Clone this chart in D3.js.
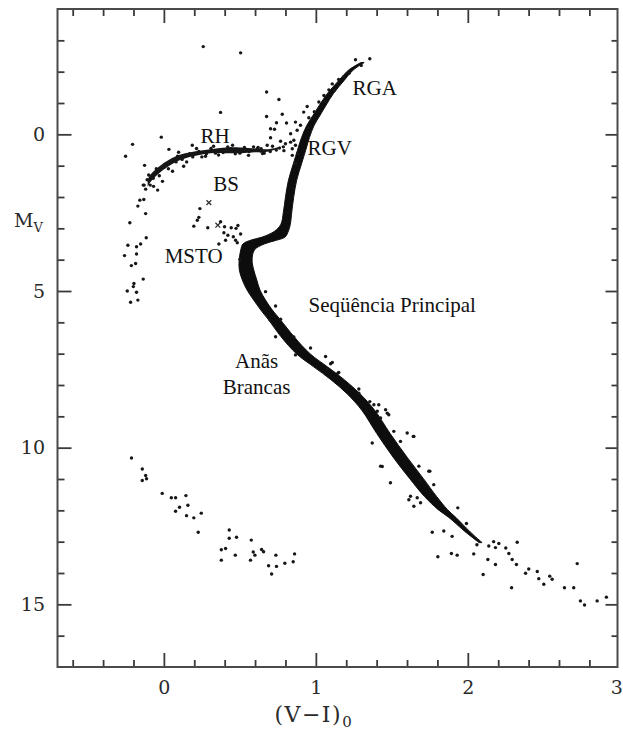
<!DOCTYPE html>
<html>
<head>
<meta charset="utf-8">
<script src="https://cdn.jsdelivr.net/npm/d3@7"></script>
<style>
  body { margin: 0; background: #fff; }
  svg { display: block; }
</style>
</head>
<body>
<svg id="chart" width="623" height="733"></svg>
<script>
// ---- axis ticks ----
const majorX = [0, 1, 2, 3];
const majorY = [0, 5, 10, 15];

// ---- dense ridge of the main sequence / subgiant / red giant branch ----
// colour (V-I)0, magnitude Mv, full colour spread of the band
const ridgeColor = [1.307, 1.228, 1.169, 1.097, 1.044, 1.005, 0.965, 0.932, 0.906, 0.880, 0.847, 0.827, 0.814, 0.801, 0.774, 0.722, 0.656, 0.590, 0.551, 0.538, 0.544, 0.564, 0.590, 0.630, 0.676, 0.728, 0.814, 0.919, 1.031, 1.143, 1.248, 1.347, 1.445, 1.557, 1.663, 1.755, 1.834, 1.899, 1.998, 2.084];
const ridgeMag   = [-2.29, -2.04, -1.72, -1.31, -0.92, -0.61, -0.29, 0.10, 0.51, 0.92, 1.46, 2.01, 2.48, 2.87, 3.09, 3.28, 3.38, 3.50, 3.69, 4.01, 4.33, 4.65, 4.97, 5.29, 5.61, 5.92, 6.46, 7.01, 7.42, 7.83, 8.28, 8.82, 9.55, 10.32, 10.99, 11.56, 11.97, 12.23, 12.68, 13.03];
const ridgeSpread = [0.022, 0.030, 0.035, 0.040, 0.044, 0.046, 0.048, 0.052, 0.054, 0.054, 0.054, 0.054, 0.055, 0.062, 0.090, 0.150, 0.170, 0.140, 0.090, 0.085, 0.095, 0.095, 0.085, 0.078, 0.076, 0.078, 0.086, 0.090, 0.090, 0.088, 0.085, 0.085, 0.088, 0.092, 0.090, 0.080, 0.062, 0.046, 0.032, 0.020];

// ---- horizontal branch ridge: colour, magnitude, full magnitude spread ----
const hbColor  = [-0.107, -0.088, -0.035, 0.031, 0.110, 0.209, 0.307, 0.406, 0.504, 0.603, 0.689, 0.768];
const hbMag    = [1.56, 1.40, 1.15, 0.92, 0.73, 0.61, 0.54, 0.51, 0.51, 0.51, 0.51, 0.41];
const hbSpread = [0.22, 0.24, 0.22, 0.20, 0.17, 0.14, 0.13, 0.18, 0.18, 0.12, 0.07, 0.04];

// ---- individual stars: [ (V-I)0, Mv ] ----
const hbStars = [
  [-0.017, 0.09], [-0.206, 0.32], [-0.252, 0.70], [-0.127, 0.99],
  [-0.068, 1.66], [-0.041, 1.78], [-0.009, 1.50], [0.057, 1.18], [0.130, 1.02],
  [0.097, 0.57], [0.215, 0.45], [0.274, 0.70], [0.327, 0.38], [0.452, 0.35],
  [0.557, 0.67], [0.649, 0.61], [0.715, 0.38], [0.033, 0.48], [0.187, 0.35],
  [0.373, -0.70], [0.259, -2.80], [0.505, -2.60],
  [-0.12, 1.75], [-0.10, 1.30], [-0.06, 1.25], [0.00, 1.05], [0.06, 0.80],
  [0.15, 0.88], [0.17, 0.62], [0.25, 0.72], [0.36, 0.66], [0.42, 0.40],
  [0.47, 0.62], [0.59, 0.40], [0.62, 0.42], [0.66, 0.60], [0.74, 0.50],
  [0.79, 0.52], [0.80, 0.30],
  [-0.13, 1.62], [-0.11, 1.45], [-0.09, 1.62], [-0.07, 1.40], [-0.05, 1.10],
  [-0.03, 1.32], [0.01, 0.95], [0.03, 1.10], [0.08, 0.88], [0.09, 0.70],
  [0.12, 0.80], [0.19, 0.72], [0.23, 0.55], [0.28, 0.62], [0.31, 0.45],
  [0.34, 0.60], [0.39, 0.58], [0.44, 0.46], [0.50, 0.60], [0.53, 0.42],
  [0.56, 0.55], [0.64, 0.46], [0.70, 0.55], [0.76, 0.44]
];
const blueTailStars = [
  [-0.136, 1.62], [-0.158, 2.10], [-0.132, 2.08], [-0.171, 2.29], [-0.120, 2.53],
  [-0.224, 2.82], [-0.116, 3.30], [-0.153, 3.50], [-0.237, 3.54], [-0.180, 3.59],
  [-0.259, 3.87], [-0.180, 3.82], [-0.214, 4.19], [-0.186, 4.12], [-0.136, 4.62],
  [-0.197, 4.76], [-0.201, 4.86], [-0.241, 5.00], [-0.180, 5.04], [-0.171, 5.29],
  [-0.219, 5.36]
];
const agbStars = [
  [0.676, -1.35], [0.757, -1.11], [0.676, -0.57], [0.779, -0.64], [0.741, -0.37],
  [0.807, -0.36], [0.728, -0.16], [0.866, -0.39], [0.877, -0.13], [0.702, 0.11],
  [0.768, 0.22], [0.680, 0.35], [0.834, 0.25], [0.845, 0.46], [0.614, 0.46],
  [0.636, 0.53], [0.866, 0.35], [0.702, -0.18], [0.834, -0.02], [0.920, -0.71],
  [0.943, -0.89]
];
const rgbStars = [
  [1.261, -2.38], [1.355, -2.41], [1.299, -2.20], [1.218, -1.95], [1.184, -1.83],
  [1.108, -1.61], [1.086, -1.42], [1.053, -1.24], [1.020, -1.03], [0.954, -0.53],
  [0.899, -0.29], [0.855, 0.19], [0.845, 0.67], [0.866, 0.93], [0.786, 0.40],
  [1.150, -1.75], [1.120, -1.40], [1.060, -1.05], [0.990, -0.72], [0.950, -0.20],
  [0.880, 0.62]
];
const blueStragglers = [
  [0.237, 2.37], [0.230, 2.65], [0.220, 2.74], [0.197, 2.93], [0.289, 2.98],
  [0.373, 2.79], [0.399, 2.95], [0.443, 2.98], [0.487, 2.91], [0.395, 3.14],
  [0.421, 3.22], [0.457, 3.27], [0.505, 3.18], [0.406, 3.38], [0.472, 3.38],
  [0.483, 3.46], [0.362, 3.50], [0.500, 3.99], [0.475, 3.00]
];
const blueStragglerCrosses = [[0.296, 2.18], [0.355, 2.90]];
const msStars = [
  [0.669, 5.02], [0.735, 5.48], [0.698, 5.92], [0.768, 5.90], [0.735, 6.46],
  [0.855, 6.47], [0.965, 6.82], [0.866, 7.04], [1.064, 7.09], [1.097, 7.32],
  [1.075, 7.49], [1.145, 7.62], [1.108, 7.28], [1.151, 7.60], [1.283, 8.13],
  [1.283, 8.26], [1.355, 8.53], [1.414, 8.63], [1.404, 8.84], [1.470, 8.90],
  [1.382, 8.63], [1.480, 8.95], [1.426, 9.05], [1.459, 8.79], [1.371, 9.85],
  [1.513, 9.48], [1.601, 9.53], [1.645, 9.64], [1.557, 9.80], [1.641, 9.64],
  [1.426, 10.59], [1.491, 11.12], [1.743, 10.75], [1.678, 10.59], [1.689, 11.02],
  [1.776, 11.18], [1.623, 11.55], [1.667, 11.60], [1.437, 10.60], [1.750, 10.75],
  [1.612, 11.66], [1.645, 11.87], [1.689, 11.76], [1.934, 11.92]
];
const lowerMsStars = [
  [1.766, 12.70], [1.842, 12.66], [1.897, 12.83], [1.991, 12.42], [1.803, 13.48],
  [1.892, 13.38], [1.930, 13.43], [2.039, 13.39], [2.138, 13.14], [2.182, 13.19],
  [2.204, 13.06], [2.132, 13.57], [2.182, 13.73], [2.101, 14.05], [2.270, 13.38],
  [2.292, 13.57], [2.325, 13.02], [2.320, 13.73], [2.288, 14.47], [2.380, 14.01],
  [2.401, 13.87], [2.457, 13.95], [2.467, 14.18], [2.500, 14.36], [2.539, 14.10],
  [2.555, 14.20], [2.636, 14.47], [2.697, 14.47], [2.720, 13.70], [2.741, 14.89],
  [2.768, 15.02], [2.851, 14.89], [2.912, 14.77], [2.170, 13.00], [2.250, 13.20],
  [2.060, 13.10]
];
const whiteDwarfs = [
  [-0.213, 10.33], [-0.142, 10.68], [-0.120, 10.89], [-0.114, 10.99], [-0.142, 11.05],
  [-0.011, 11.46], [0.049, 11.60], [0.077, 11.60], [0.145, 11.53], [0.077, 12.03],
  [0.103, 11.90], [0.158, 11.84], [0.149, 12.17], [0.197, 12.24], [0.246, 12.09],
  [0.226, 12.70], [0.430, 12.63], [0.430, 12.89], [0.478, 12.86], [0.575, 12.95],
  [0.378, 13.26], [0.406, 13.22], [0.378, 13.59], [0.470, 13.43], [0.588, 13.33],
  [0.599, 13.43], [0.570, 13.59], [0.643, 13.25], [0.656, 13.32], [0.737, 13.43],
  [0.689, 13.77], [0.741, 13.79], [0.709, 14.03], [0.796, 13.69], [0.851, 13.64],
  [0.860, 13.39]
];

// ---- region names: text, (V-I)0, Mv of baseline, anchor ----
const regionNames = [
  { text: "RGA", c: 1.241, m: -1.24, anchor: "start" },
  { text: "RGV", c: 0.945, m: 0.67, anchor: "start" },
  { text: "RH", c: 0.241, m: 0.29, anchor: "start" },
  { text: "BS", c: 0.325, m: 1.82, anchor: "start" },
  { text: "MSTO", c: 0.005, m: 4.10, anchor: "start" },
  { text: "Seqüência Principal", c: 0.952, m: 5.66, anchor: "start" },
  { text: "Anãs", c: 0.610, m: 7.45, anchor: "middle" },
  { text: "Brancas", c: 0.610, m: 8.28, anchor: "middle" }
];

// ---- layout ----
const W = 623, H = 733;
const margin = { left: 57.5, top: 9, right: 5.5, bottom: 66 };
const svg = d3.select("#chart");

const x = d3.scaleLinear().domain([-0.7, 2.985]).range([margin.left, W - margin.right]);
const y = d3.scaleLinear().domain([-4, 17]).range([margin.top, H - margin.bottom]);

const minorX = d3.range(-6, 30, 2).map(v => v / 10).filter(v => !Number.isInteger(v));
const minorY = d3.range(-3, 17).filter(v => v % 5 !== 0);

const tickColor = "#3a3a3a";
const plotLeft = x.range()[0], plotRight = x.range()[1];
const plotTop = y.range()[0], plotBottom = y.range()[1];

const defs = svg.append("defs");
defs.append("clipPath").attr("id", "plotClip")
  .append("rect")
  .attr("x", plotLeft).attr("y", plotTop)
  .attr("width", plotRight - plotLeft).attr("height", plotBottom - plotTop);
defs.append("filter").attr("id", "soft")
  .append("feGaussianBlur").attr("stdDeviation", 0.5);

const marks = svg.append("g").attr("clip-path", "url(#plotClip)");
const soft = marks.append("g").attr("filter", "url(#soft)");

// dense sequence band
const ridge = ridgeColor.map((c, i) => ({ c, m: ridgeMag[i], s: ridgeSpread[i] }));
soft.append("path")
  .datum(ridge)
  .attr("fill", "#0d0d0d")
  .attr("stroke", "#0d0d0d")
  .attr("stroke-width", 1)
  .attr("d", d3.area()
    .curve(d3.curveCatmullRom)
    .y(d => y(d.m))
    .x0(d => x(d.c - d.s / 2))
    .x1(d => x(d.c + d.s / 2)));

// horizontal branch band
const hb = hbColor.map((c, i) => ({ c, m: hbMag[i], s: hbSpread[i] }));
soft.append("path")
  .datum(hb)
  .attr("fill", "#151515")
  .attr("d", d3.area()
    .curve(d3.curveCatmullRom)
    .x(d => x(d.c))
    .y0(d => y(d.m - d.s / 2))
    .y1(d => y(d.m + d.s / 2)));

// individual stars
const allStars = [].concat(hbStars, blueTailStars, agbStars, rgbStars,
  blueStragglers, msStars, lowerMsStars, whiteDwarfs);
soft.append("g")
  .selectAll("circle")
  .data(allStars)
  .join("circle")
  .attr("cx", d => x(d[0]))
  .attr("cy", d => y(d[1]))
  .attr("r", 1.7)
  .attr("fill", "#151515");

// cross-marked stars
const cs = 2.4;
soft.append("g")
  .selectAll("path")
  .data(blueStragglerCrosses)
  .join("path")
  .attr("d", d => {
    const px = x(d[0]), py = y(d[1]);
    return `M${px - cs},${py - cs}L${px + cs},${py + cs}M${px - cs},${py + cs}L${px + cs},${py - cs}`;
  })
  .attr("stroke", "#333")
  .attr("stroke-width", 1.3);

// ---- axes: ticks on all four sides, pointing inward ----
function tickAxis(axisFn, scale, values, size, transform) {
  const g = svg.append("g").attr("transform", transform)
    .call(axisFn(scale).tickValues(values).tickSize(-size).tickFormat(""));
  g.select(".domain").remove();
  g.selectAll(".tick line").attr("stroke", tickColor).attr("stroke-width", 1.8);
}
const innerMajorX = majorX.filter(v => x(v) < plotRight - 1);
tickAxis(d3.axisBottom, x, minorX, 7, `translate(0,${plotBottom})`);
tickAxis(d3.axisBottom, x, innerMajorX, 14, `translate(0,${plotBottom})`);
tickAxis(d3.axisTop, x, minorX, 7, `translate(0,${plotTop})`);
tickAxis(d3.axisTop, x, innerMajorX, 14, `translate(0,${plotTop})`);
tickAxis(d3.axisLeft, y, minorY, 7, `translate(${plotLeft},0)`);
tickAxis(d3.axisLeft, y, majorY, 14, `translate(${plotLeft},0)`);
tickAxis(d3.axisRight, y, minorY, 6, `translate(${plotRight},0)`);
tickAxis(d3.axisRight, y, majorY, 12, `translate(${plotRight},0)`);

// frame
svg.append("rect")
  .attr("x", plotLeft).attr("y", plotTop)
  .attr("width", plotRight - plotLeft).attr("height", plotBottom - plotTop)
  .attr("fill", "none").attr("stroke", "#4a4a4a").attr("stroke-width", 2);

// tick labels
const labelFont = "'DejaVu Serif', serif";
const xl = svg.append("g").attr("transform", `translate(0,${plotBottom})`)
  .call(d3.axisBottom(x).tickValues(majorX).tickSize(0).tickPadding(13.5).tickFormat(d3.format("d")));
xl.select(".domain").remove();
xl.selectAll("text").attr("font-family", labelFont).attr("font-size", 19).attr("fill", "#2a2a2a");
// the last label sits on the window edge: keep it inside
xl.selectAll(".tick").filter(d => x(d) > W - 8).select("text")
  .attr("text-anchor", "end").attr("dx", 2.5);

const yl = svg.append("g").attr("transform", `translate(${plotLeft},0)`)
  .call(d3.axisLeft(y).tickValues(majorY).tickSize(0).tickPadding(12.5).tickFormat(d3.format("d")));
yl.select(".domain").remove();
yl.selectAll("text").attr("font-family", labelFont).attr("font-size", 19).attr("fill", "#2a2a2a");

// axis titles
const yTitle = svg.append("text")
  .attr("x", 14).attr("y", 227)
  .attr("font-family", labelFont).attr("font-size", 19).attr("fill", "#2a2a2a");
yTitle.append("tspan").text("M");
yTitle.append("tspan").attr("dy", 5).attr("font-size", 13).text("V");

const xTitle = svg.append("text")
  .attr("x", x(1) - 2).attr("y", 722)
  .attr("text-anchor", "middle")
  .attr("font-family", labelFont).attr("font-size", 22)
  .attr("letter-spacing", 1.5).attr("fill", "#2a2a2a");
xTitle.append("tspan").text("(V\u2212I)");
xTitle.append("tspan").attr("dy", 5).attr("font-size", 15).text("0");

// region names
svg.append("g")
  .selectAll("text")
  .data(regionNames)
  .join("text")
  .attr("x", d => x(d.c))
  .attr("y", d => y(d.m))
  .attr("text-anchor", d => d.anchor)
  .attr("font-family", "'Liberation Serif', 'Times New Roman', serif")
  .attr("font-size", 21)
  .attr("fill", "#111")
  .text(d => d.text);
</script>
</body>
</html>
